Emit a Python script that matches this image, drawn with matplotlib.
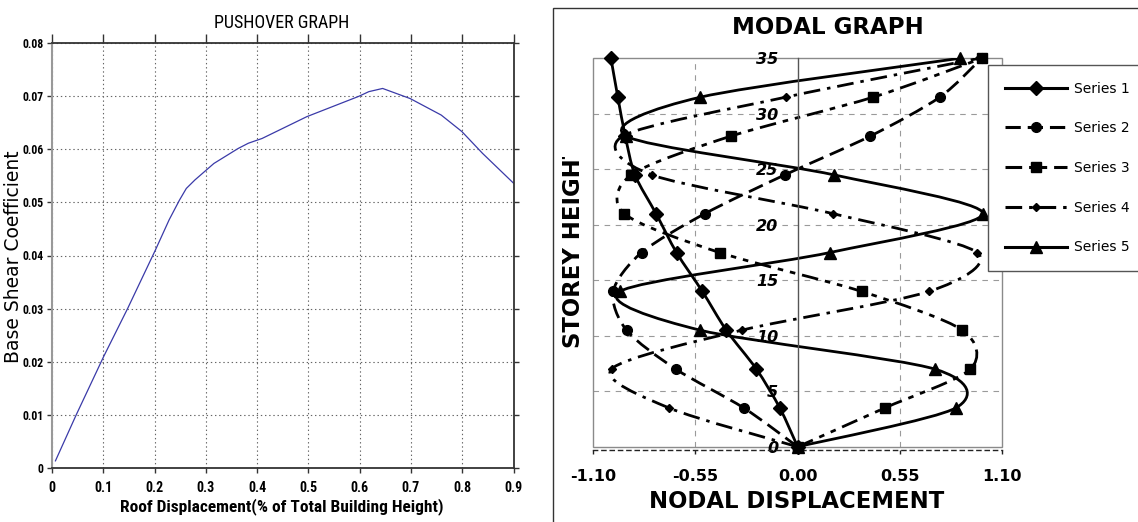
import numpy as np
import matplotlib
matplotlib.use("Agg")
import matplotlib.pyplot as plt
from matplotlib.path import Path
from matplotlib.patches import PathPatch, Rectangle
from matplotlib.lines import Line2D
from matplotlib.transforms import Bbox, TransformedBbox
from matplotlib import font_manager as fm

# ---------------- data ----------------
# Pushover curve
push_x = [0.0067, 0.047, 0.1007, 0.1478, 0.2015, 0.2284, 0.2485, 0.2619, 0.2787,
          0.3157, 0.3627, 0.3828, 0.4097, 0.497, 0.5978, 0.6179, 0.6448, 0.6985,
          0.759, 0.7993, 0.8396, 0.9]
push_y = [0.0014, 0.0100, 0.0210, 0.0301, 0.0410, 0.0467, 0.0504, 0.0526, 0.0542,
          0.0573, 0.0601, 0.0611, 0.0620, 0.0661, 0.0699, 0.0708, 0.0714, 0.0695,
          0.0664, 0.0633, 0.0592, 0.0536]
push_xticks = [0, 0.1, 0.2, 0.3, 0.4, 0.5, 0.6, 0.7, 0.8, 0.9]
push_xticklabels = ["0", "0.1", "0.2", "0.3", "0.4", "0.5", "0.6", "0.7", "0.8", "0.9"]
push_yticks = [0, 0.01, 0.02, 0.03, 0.04, 0.05, 0.06, 0.07, 0.08]
push_yticklabels = ["0", "0.01", "0.02", "0.03", "0.04", "0.05", "0.06", "0.07", "0.08"]

# Modal shapes
storey = [0, 3.5, 7, 10.5, 14, 17.5, 21, 24.5, 28, 31.5, 35]
series1 = [0, -0.096, -0.222, -0.384, -0.513, -0.652, -0.762, -0.876, -0.928, -0.968, -1.005]
series2 = [0, -0.290, -0.656, -0.921, -0.993, -0.840, -0.500, -0.069, 0.392, 0.765, 0.990]
series3 = [0, 0.469, 0.930, 0.887, 0.344, -0.420, -0.933, -0.896, -0.357, 0.407, 0.992]
series4 = [0, -0.692, -1.002, -0.302, 0.708, 0.966, 0.191, -0.786, -0.940, -0.064, 0.977]
series5 = [0, 0.851, 0.738, -0.523, -0.957, 0.173, 0.998, 0.195, -0.925, -0.523, 0.873]
series_names = ["Series 1", "Series 2", "Series 3", "Series 4", "Series 5"]
modal_xticks = [-1.10, -0.55, 0.00, 0.55, 1.10]
modal_xticklabels = ["-1.10", "-0.55", "0.00", "0.55", "1.10"]
modal_yticks = [0, 5, 10, 15, 20, 25, 30, 35]
modal_yticklabels = ["0", "5", "10", "15", "20", "25", "30", "35"]

# ---------------- setup ----------------
plt.rcParams['lines.scale_dashes'] = False
W, H = 1138, 522
fig = plt.figure(figsize=(W / 100, H / 100), dpi=100)
fig.patch.set_facecolor("white")

names = {f.name for f in fm.fontManager.ttflist}
narrow = "DejaVu Sans"
for c in ["Liberation Sans Narrow", "Roboto Condensed", "DejaVu Sans Condensed", "Open Sans Condensed"]:
    if c in names:
        narrow = c
        break

# ---------------- left: pushover ----------------
ax1 = fig.add_axes([52 / W, 1 - 468.3 / H, (513.5 - 52) / W, (468.3 - 42.7) / H])
ax1.plot(push_x, push_y, color="#3a3aa8", lw=0.9)
ax1.set_xlim(0, 0.9)
ax1.set_ylim(0, 0.08)
ax1.set_xticks(push_xticks)
ax1.set_xticklabels(push_xticklabels)
ax1.set_yticks(push_yticks)
ax1.set_yticklabels(push_yticklabels)
ax1.grid(True, linestyle=(0, (1, 2)), color="#666666", lw=0.8)
ax1.tick_params(axis="both", direction="out", length=3.5, width=1.0, color="#333333",
                top=True, right=True, labeltop=False, labelright=False)
ax1.tick_params(axis="x", pad=6, labelsize=10)
ax1.tick_params(axis="y", pad=2.5, labelsize=8.5)
for t in ax1.xaxis.get_major_ticks():
    t.tick2line.set_markersize(6.5)
for lab in ax1.get_xticklabels() + ax1.get_yticklabels():
    lab.set_fontfamily(narrow)
    lab.set_fontweight("bold")
for side in ["top", "bottom", "right"]:
    ax1.spines[side].set_color("#333333")
    ax1.spines[side].set_linewidth(1.3)
ax1.spines["left"].set_color("#999999")
ax1.spines["left"].set_linewidth(1.5)

fig.text(282 / W, 1 - 22.5 / H, "PUSHOVER GRAPH", ha="center", va="center",
         fontsize=13, family=narrow)
fig.text(282 / W, 1 - 507 / H, "Roof Displacement(% of Total Building Height)",
         ha="center", va="center", fontsize=12.5, family=narrow, fontweight="bold")
fig.text(14 / W, 1 - 256.7 / H, "Base Shear Coefficient", ha="center", va="center",
         rotation=90, fontsize=13.5, family="DejaVu Sans")

# ---------------- right: modal ----------------
# chart area border
fig.add_artist(Rectangle((553.3 / W, -0.1), 1.0, 1.1 - 8.3 / H, transform=fig.transFigure,
                         fill=False, edgecolor="#333333", lw=1.0))

ax2 = fig.add_axes([593.3 / W, 1 - 446.8 / H, (1002 - 593.3) / W, (446.8 - 58.3) / H])
ax2.set_xlim(-1.1, 1.1)
ax2.set_ylim(0, 35)
ax2.set_axisbelow(True)
ax2.add_patch(Rectangle((0, 0), 1, 1, transform=ax2.transAxes, fill=False,
                        edgecolor="#8a8a8a", lw=1.0, zorder=0.4, clip_on=False))
for s in ["top", "right"]:
    ax2.spines[s].set_visible(False)
ax2.spines["left"].set_position(("data", 0))
ax2.spines["left"].set_color("#555555")
ax2.spines["left"].set_linewidth(1.0)
ax2.spines["bottom"].set_position(("outward", 2))
ax2.spines["bottom"].set_linestyle((0, (3, 3)))
ax2.spines["bottom"].set_color("#222222")
ax2.spines["bottom"].set_linewidth(1.0)

ax2.set_xticks(modal_xticks)
ax2.set_xticklabels(modal_xticklabels)
ax2.set_yticks(modal_yticks)
ax2.set_yticklabels(modal_yticklabels)
ax2.tick_params(axis="x", direction="out", length=3, width=1, color="#222222", pad=11,
                labelsize=11.5)
ax2.tick_params(axis="y", length=0, pad=14, labelsize=11.5)
for lab in ax2.get_xticklabels():
    lab.set_fontweight("bold")
for lab in ax2.get_yticklabels():
    lab.set_fontweight("bold")
    lab.set_fontstyle("italic")
for xv in [-0.55, 0.55]:
    ax2.axvline(xv, color="#9a9a9a", lw=0.8, ls=(0, (4, 4)), zorder=0.3)
for yv in [5, 10, 15, 20, 25, 30]:
    ax2.axhline(yv, color="#9a9a9a", lw=0.8, ls=(0, (4, 4)), zorder=0.3)


def smooth_path(xs, ys, k=1.0 / 7.0):
    pts = np.column_stack([xs, ys]).astype(float)
    n = len(pts)
    verts = [pts[0]]
    codes = [Path.MOVETO]
    for i in range(n - 1):
        p0 = pts[max(i - 1, 0)]
        p1 = pts[i]
        p2 = pts[i + 1]
        p3 = pts[min(i + 2, n - 1)]
        verts += [p1 + (p2 - p0) * k, p2 - (p3 - p1) * k, p2]
        codes += [Path.CURVE4] * 3
    return Path(verts, codes)


styles = [
    dict(ls="-", marker="D", ms=7),
    dict(ls=(0, (11, 5)), marker="o", ms=7),
    dict(ls=(0, (12, 5, 4, 5, 4, 5)), marker="s", ms=7.5),
    dict(ls=(0, (12, 5, 2.5, 5)), marker="D", ms=4.5),
    dict(ls="-", marker="^", ms=8),
]
all_series = [series1, series2, series3, series4, series5]
handles = []
for vals, st, nm in zip(all_series, styles, series_names):
    patch = PathPatch(smooth_path(vals, storey), fill=False, edgecolor="black", lw=2.0,
                      linestyle=st["ls"], capstyle="butt", zorder=2)
    ax2.add_patch(patch)
    ax2.plot(vals, storey, linestyle="none", marker=st["marker"], ms=st["ms"],
             color="black", zorder=3, clip_on=False)
    handles.append(Line2D([], [], color="black", lw=2.2, ls=st["ls"], marker=st["marker"],
                          ms=st["ms"]))

leg = ax2.legend(handles, series_names, loc="upper left",
                 bbox_to_anchor=(988 / W, 1 - 65 / H), bbox_transform=fig.transFigure,
                 frameon=True, fancybox=False, edgecolor="#555555", framealpha=1,
                 borderaxespad=0, handlelength=4.5, handletextpad=0.5, labelspacing=1.85,
                 borderpad=1.2, fontsize=10, numpoints=1)
leg.get_frame().set_linewidth(1.0)

fig.text(828 / W, 1 - 27 / H, "MODAL GRAPH", ha="center", va="center",
         fontsize=16.5, fontweight="bold")
fig.text(797 / W, 1 - 501.5 / H, "NODAL DISPLACEMENT", ha="center", va="center",
         fontsize=16.4, fontweight="bold")
yl = fig.text(573 / W, 1 - 348 / H, "STOREY HEIGHT", ha="center", va="bottom",
              rotation=90, fontsize=16.4, fontweight="bold")
yl.set_clip_box(TransformedBbox(Bbox([[0, 0], [1, 1 - 157 / H]]), fig.transFigure))
yl.set_clip_on(True)

fig.savefig("out.png", dpi=100)
